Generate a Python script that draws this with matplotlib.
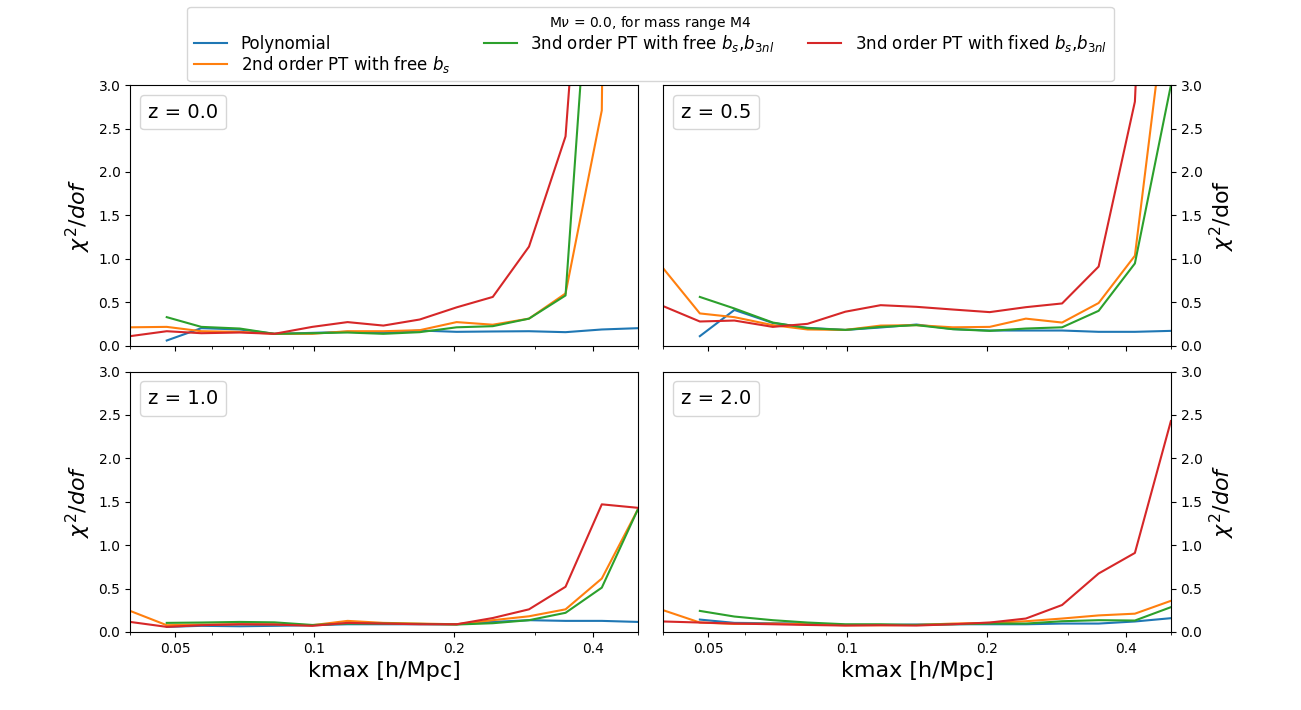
import numpy as np
import matplotlib
matplotlib.use("Agg")
import matplotlib.pyplot as plt
from matplotlib import ticker
from matplotlib.lines import Line2D
from matplotlib.offsetbox import AnchoredText

nan = np.nan
kmax = [0.040, 0.048, 0.057, 0.069, 0.082, 0.099, 0.118, 0.141, 0.169, 0.203, 0.243, 0.291, 0.349, 0.418, 0.500]

labels = ["Polynomial",
          r"2nd order PT with free $b_s$",
          r"3nd order PT with free $b_s$,$b_{3nl}$",
          r"3nd order PT with fixed $b_s$,$b_{3nl}$"]
colors = ["#1f77b4", "#ff7f0e", "#2ca02c", "#d62728"]
redshifts = ["z = 0.0", "z = 0.5", "z = 1.0", "z = 2.0"]

# z = 0.0
poly_z0 = [nan, 0.058, 0.20, 0.185, 0.135, 0.146, 0.158, 0.146, 0.173, 0.158, 0.162, 0.165, 0.154, 0.185, 0.20]
pt2_z0 = [0.21, 0.215, 0.165, 0.158, 0.135, 0.135, 0.165, 0.165, 0.177, 0.27, 0.24, 0.31, 0.60, 2.71, 40.0]
pt3free_z0 = [nan, 0.327, 0.215, 0.196, 0.135, 0.142, 0.15, 0.135, 0.154, 0.21, 0.223, 0.31, 0.577, 6.5, 20.0]
pt3fix_z0 = [0.108, 0.165, 0.142, 0.15, 0.135, 0.215, 0.27, 0.23, 0.30, 0.44, 0.56, 1.14, 2.41, 8.0, 25.0]

# z = 0.5
poly_z05 = [nan, 0.108, 0.41, 0.26, 0.204, 0.18, 0.208, 0.242, 0.19, 0.173, 0.173, 0.173, 0.158, 0.158, 0.169]
pt2_z05 = [0.89, 0.37, 0.327, 0.235, 0.185, 0.18, 0.23, 0.235, 0.21, 0.215, 0.31, 0.265, 0.49, 1.035, 4.4]
pt3free_z05 = [nan, 0.56, 0.427, 0.265, 0.20, 0.18, 0.215, 0.235, 0.188, 0.169, 0.196, 0.21, 0.40, 0.946, 3.0]
pt3fix_z05 = [0.454, 0.277, 0.288, 0.215, 0.25, 0.39, 0.465, 0.446, 0.415, 0.385, 0.442, 0.485, 0.91, 2.81, 12.0]

# z = 1.0
poly_z1 = [nan, 0.058, 0.07, 0.065, 0.07, 0.077, 0.088, 0.088, 0.088, 0.088, 0.115, 0.135, 0.127, 0.127, 0.115]
pt2_z1 = [0.242, 0.077, 0.085, 0.088, 0.088, 0.077, 0.127, 0.104, 0.096, 0.088, 0.135, 0.18, 0.26, 0.615, 1.41]
pt3free_z1 = [nan, 0.104, 0.108, 0.115, 0.11, 0.08, 0.096, 0.096, 0.092, 0.085, 0.10, 0.135, 0.22, 0.51, 1.41]
pt3fix_z1 = [0.115, 0.058, 0.077, 0.088, 0.085, 0.07, 0.104, 0.096, 0.088, 0.088, 0.16, 0.26, 0.52, 1.47, 1.43]

# z = 2.0
poly_z2 = [nan, 0.142, 0.104, 0.10, 0.096, 0.08, 0.08, 0.085, 0.088, 0.088, 0.088, 0.096, 0.096, 0.12, 0.158]
pt2_z2 = [0.25, 0.108, 0.092, 0.096, 0.088, 0.077, 0.077, 0.08, 0.096, 0.104, 0.123, 0.154, 0.19, 0.21, 0.358]
pt3free_z2 = [nan, 0.242, 0.177, 0.135, 0.108, 0.088, 0.088, 0.08, 0.088, 0.096, 0.096, 0.123, 0.135, 0.131, 0.285]
pt3fix_z2 = [0.12, 0.108, 0.096, 0.088, 0.08, 0.073, 0.077, 0.073, 0.088, 0.108, 0.154, 0.31, 0.673, 0.91, 2.43]

panels = [
    [poly_z0, pt2_z0, pt3free_z0, pt3fix_z0],
    [poly_z05, pt2_z05, pt3free_z05, pt3fix_z05],
    [poly_z1, pt2_z1, pt3free_z1, pt3fix_z1],
    [poly_z2, pt2_z2, pt3free_z2, pt3fix_z2],
]
ylabels = [r"$\chi^2/dof$", r"$\chi^2$/dof", r"$\chi^2/dof$", r"$\chi^2/dof$"]
xticks = [0.05, 0.1, 0.2, 0.4]

fig, axes = plt.subplots(2, 2, figsize=(13.01, 7.10), dpi=100, sharex=True)
fig.subplots_adjust(left=0.1, right=0.9, bottom=0.11, top=0.88, wspace=0.05, hspace=0.1)

for i, ax in enumerate(axes.flat):
    for series, c in zip(panels[i], colors):
        ax.plot(kmax, series, color=c, lw=1.5)
    ax.set_xscale("log")
    ax.set_xlim(0.04, 0.5)
    ax.set_ylim(0, 3)
    ax.set_xticks(xticks)
    ax.xaxis.set_major_formatter(ticker.FormatStrFormatter("%g"))
    ax.xaxis.set_minor_formatter(ticker.NullFormatter())
    ax.set_ylabel(ylabels[i], fontsize=16)
    if i % 2 == 1:
        ax.yaxis.tick_right()
        ax.yaxis.set_label_position("right")
    if i >= 2:
        ax.set_xlabel("kmax [h/Mpc]", fontsize=16)
    at = AnchoredText(redshifts[i], loc="upper left", prop=dict(size=14),
                      pad=0.4, borderpad=0.5, frameon=True)
    at.patch.set_boxstyle("round,pad=0,rounding_size=0.2")
    at.patch.set_edgecolor("0.8")
    at.patch.set_facecolor("white")
    at.patch.set_alpha(0.8)
    ax.add_artist(at)

handles = [Line2D([], [], color=c, lw=1.5) for c in colors]
fig.legend(handles, labels, loc="upper center", bbox_to_anchor=(0.5, 0.99), ncol=3,
           fontsize=12, title=r"M$\nu$ = 0.0, for mass range M4", title_fontsize=10,
           borderaxespad=0.0, labelspacing=0.06)

fig.savefig("out.png", dpi=100)
